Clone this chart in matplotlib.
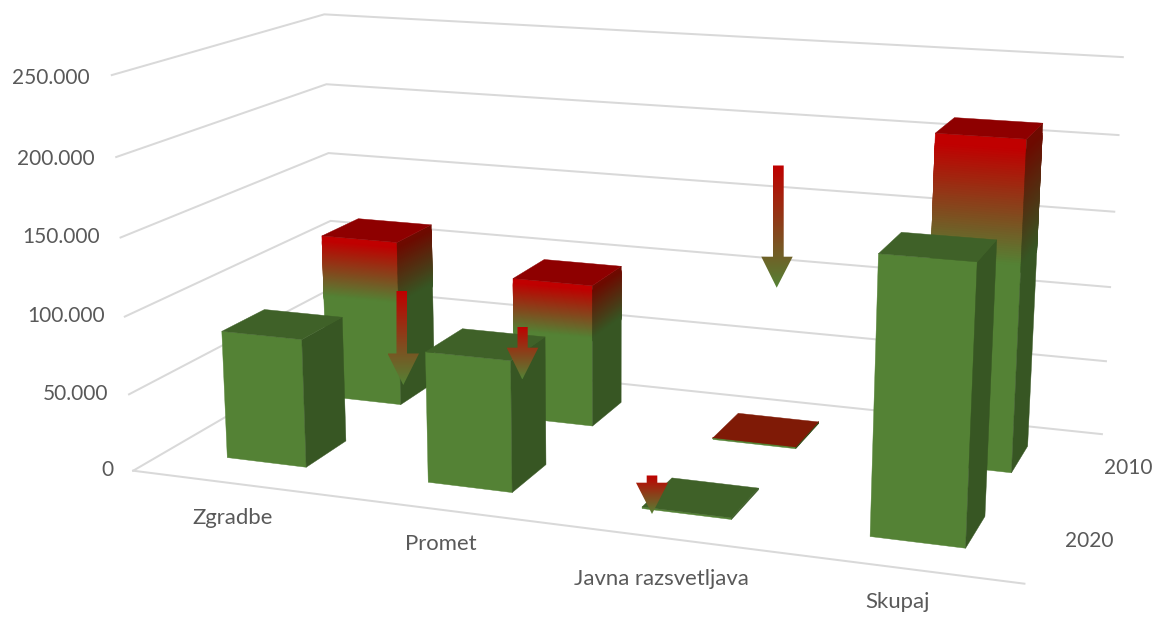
import numpy as np
import matplotlib
matplotlib.use('Agg')
import matplotlib.pyplot as plt
from matplotlib.colors import to_rgb
from matplotlib.patches import Polygon
from mpl_toolkits.mplot3d.art3d import Poly3DCollection

plt.rcParams['font.family'] = ['Lato', 'DejaVu Sans']

CATEGORIES = ['Zgradbe', 'Promet', 'Javna razsvetljava', 'Skupaj']
SERIES = ['2020', '2010']
VALUES_2020 = [83500, 83800, 1000, 168700]
VALUES_2010 = [114000, 96300, 1200, 212400]
VALUE_TICKS = [0, 50000, 100000, 150000, 200000, 250000]
VALUE_LABELS = ['0', '50.000', '100.000', '150.000', '200.000', '250.000']

GREEN, GREEN_SIDE, GREEN_TOP = '#548235', '#375623', '#3F6128'
RED, RED_SIDE = '#C00000', '#6E0A00'
TOPS_2010 = ['#8E0000', '#8E0000', '#7F1A06', '#8E0000']
GRID = '#D9D9D9'
TEXT = '#595959'
FONT_VALUE = 15
FONT_CAT = 15.9

# Camera: homography from (category, series depth, value) to pixels
Z_UNIT = 50000.0
CAM = np.array([
    [191.39168802, 129.89116574, -5.22943655 / Z_UNIT, 133.14463343],
    [10.33508122, -27.80997009, -79.77149530 / Z_UNIT, 470.71513974],
    [0.0, 0.0, 0.0, 1.0],
    [-0.03068119, 0.08703874, -0.00857379 / Z_UNIT, 1.0],
])
BAR_X = (0.30, 0.70)
BAR_Y = (0.31, 0.71)
GRAD_START, GRAD_END = 0.03, 0.37
STRIPS = 50
OVERLAP = 3 * (GRAD_END - GRAD_START) / STRIPS
EDGE_LW = 0.3

fig = plt.figure(figsize=(11.56, 6.17), dpi=100, facecolor='white')
ax = fig.add_axes([0, 0, 1, 1], projection='3d', proj_type='ortho', computed_zorder=False)
ax.set_axis_off()
ax.get_proj = lambda: CAM
ax.apply_aspect = lambda position=None: None
ax.viewLim.intervalx = (0, 1156)
ax.viewLim.intervaly = (617, 0)
ax.patch.set_alpha(0)

n_cat, n_ser = len(CATEGORIES), len(SERIES)
for z in VALUE_TICKS:
    ax.plot([0, 0, n_cat], [0, n_ser, n_ser], [z, z, z], color=GRID, lw=1.45, zorder=1,
            solid_joinstyle='miter')
ax.plot([0, n_cat], [0, 0], [0, 0], color=GRID, lw=1.45, zorder=1)


def mix(a, b, t):
    a, b = np.array(to_rgb(a)), np.array(to_rgb(b))
    return tuple(a + (b - a) * t)


ZO = [2.0]


def add_face(verts, color):
    pc = Poly3DCollection([verts], facecolors=[color], edgecolors=[color], linewidths=EDGE_LW,
                          zorder=ZO[0])
    ZO[0] += 0.001
    ax.add_collection3d(pc, autolim=False)


def add_bar(k, s, value, front_top, side_top, top):
    x0, x1 = k + BAR_X[0], k + BAR_X[1]
    y0, y1 = s + BAR_Y[0], s + BAR_Y[1]
    gradient = to_rgb(front_top) != to_rgb(GREEN)
    if gradient:
        # Band heights as fractions of the bar, from its top down
        stops = np.concatenate(([0.0], np.linspace(GRAD_START, GRAD_END, STRIPS + 1), [1.0]))
    else:
        stops = np.array([0.0, 1.0])
    for f0, f1 in zip(stops[:-1], stops[1:]):
        t = np.clip(((f0 + f1) / 2 - GRAD_START) / (GRAD_END - GRAD_START), 0, 1)
        a, b = value * (1 - f0), value * (1 - min(f1 + OVERLAP, 1.0))
        add_face([(x0, y0, a), (x1, y0, a), (x1, y0, b), (x0, y0, b)], mix(front_top, GREEN, t))
        add_face([(x1, y0, a), (x1, y1, a), (x1, y1, b), (x1, y0, b)], mix(side_top, GREEN_SIDE, t))
    add_face([(x0, y0, value), (x1, y0, value), (x1, y1, value), (x0, y1, value)], to_rgb(top))
    ZO[0] = np.floor(ZO[0]) + 1


for k, v in enumerate(VALUES_2010):
    add_bar(k, 1, v, RED, RED_SIDE, TOPS_2010[k])
for k, v in enumerate(VALUES_2020):
    add_bar(k, 0, v, GREEN, GREEN_SIDE, GREEN_TOP)

# Overlay in pixel coordinates: hand-drawn arrows and the axis labels
ov = fig.add_axes([0, 0, 1, 1], facecolor='none')
ov.set_axis_off()

ARROWS = [  # shaft left, shaft right, top, head top, head left, head right, tip x, tip y
    (396.5, 407, 291, 353.5, 387.5, 419, 403.3, 385),
    (517.5, 527.7, 327, 347.7, 506.7, 538.3, 522.3, 379.5),
    (773, 783.7, 165.5, 256.7, 761.3, 792.7, 776.7, 287.7),
    (646.7, 657.3, 475.5, 482.7, 636, 668, 652, 514),
]
ramp = np.linspace(0, 1, 256)
grad = np.array([mix(RED, GREEN, t) for t in ramp]).reshape(256, 1, 3)
for sl, sr, top, ht, hl, hr, tx, ty in ARROWS:
    im = ov.imshow(grad, extent=(hl, hr, ty, top), aspect='auto', interpolation='bilinear', zorder=5)
    poly = Polygon([(sl, top), (sr, top), (sr, ht), (hr, ht), (tx, ty), (hl, ht), (sl, ht)],
                   closed=True, transform=ov.transData, facecolor='none', edgecolor='none')
    ov.add_patch(poly)
    im.set_clip_path(poly)

VALUE_LABEL_POS = [(113, 470), (108, 394), (105, 316), (100, 237), (95, 159), (90, 78)]
for (x, y), s in zip(VALUE_LABEL_POS, VALUE_LABELS):
    ov.text(x, y, s, ha='right', va='center', color=TEXT, fontsize=FONT_VALUE)
CAT_LABEL_POS = [(233, 518), (440.5, 544), (661, 579), (897.5, 602)]
for (x, y), s in zip(CAT_LABEL_POS, CATEGORIES):
    ov.text(x, y, s, ha='center', va='center', color=TEXT, fontsize=FONT_CAT)
SER_LABEL_POS = [(1089, 541), (1128, 468)]
for (x, y), s in zip(SER_LABEL_POS, SERIES):
    ov.text(x, y, s, ha='center', va='center', color=TEXT, fontsize=FONT_VALUE)

ov.set_xlim(0, 1156)
ov.set_ylim(617, 0)

fig.savefig('out.png', dpi=100, facecolor='white')
